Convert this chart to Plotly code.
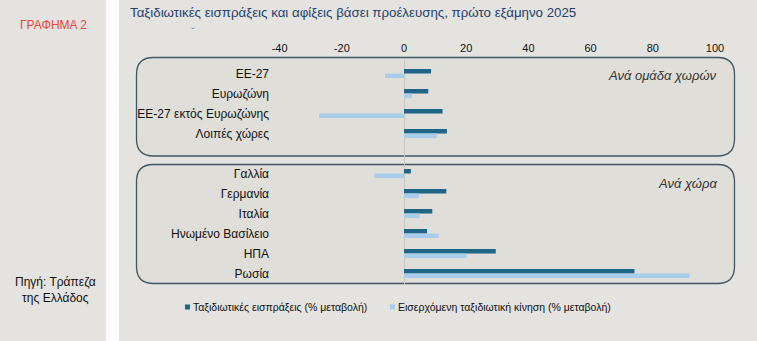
import plotly.graph_objects as go

W, H = 757, 341

categories = ["ΕΕ-27", "Ευρωζώνη", "ΕΕ-27 εκτός Ευρωζώνης", "Λοιπές χώρες", "",
              "Γαλλία", "Γερμανία", "Ιταλία", "Ηνωμένο Βασίλειο", "ΗΠΑ", "Ρωσία"]
receipts = [8.7, 7.8, 12.4, 13.8, None, 2.2, 13.6, 9.1, 7.4, 29.5, 74.1]
arrivals = [-6.1, 2.5, -27.3, 10.5, None, -9.5, 4.8, 5.0, 11.1, 20.1, 91.8]
series_names = ["Ταξιδιωτικές εισπράξεις (% μεταβολή)",
                "Εισερχόμενη ταξιδιωτική κίνηση (% μεταβολή)"]
tick_vals = [-40, -20, 0, 20, 40, 60, 80, 100]
tick_text = ["-40", "-20", "0", "20", "40", "60", "80", "100"]

title = "Ταξιδιωτικές εισπράξεις και αφίξεις βάσει προέλευσης, πρώτο εξάμηνο 2025"
DARK = "#1f6585"
LIGHT = "#a8ccec"
BG = "#e4e3df"
BOX = "#dfded9"
FONT = "Liberation Sans, Arial, sans-serif"

# pixel mapping
X0, XS = 404.0, 3.11
xr = [(0 - X0) / XS, (W - X0) / XS]
PT, PB = 58.0, 285.0
R0, RS = 73.5, 20.0
yr = [(PB - R0) / RS, (PT - R0) / RS]

def px(x):
    return x / W

def py(y):
    return 1 - y / H

idx = list(range(len(categories)))

fig = go.Figure()
fig.add_trace(go.Bar(y=idx, x=receipts, orientation="h", name=series_names[0],
                     marker=dict(color=DARK, line=dict(width=0)), showlegend=False))
fig.add_trace(go.Bar(y=idx, x=arrivals, orientation="h", name=series_names[1],
                     marker=dict(color=LIGHT, line=dict(width=0)), showlegend=False))

def rrect(x0, y0, x1, y1, r):
    def P(x, y):
        return f"{px(x):.5f},{py(y):.5f}"
    return (f"M {P(x0 + r, y0)} L {P(x1 - r, y0)} Q {P(x1, y0)} {P(x1, y0 + r)} "
            f"L {P(x1, y1 - r)} Q {P(x1, y1)} {P(x1 - r, y1)} "
            f"L {P(x0 + r, y1)} Q {P(x0, y1)} {P(x0, y1 - r)} "
            f"L {P(x0, y0 + r)} Q {P(x0, y0)} {P(x0 + r, y0)} Z")

shapes = [
    dict(type="rect", xref="paper", yref="paper", x0=px(106), x1=px(119), y0=0, y1=1,
         fillcolor="white", line=dict(width=0), layer="below"),
    dict(type="path", xref="paper", yref="paper", path=rrect(136.5, 57.5, 734.5, 156, 17),
         fillcolor=BOX, line=dict(color="#3f5768", width=1.3), layer="below"),
    dict(type="path", xref="paper", yref="paper", path=rrect(136.5, 164.5, 734.5, 283.5, 17),
         fillcolor=BOX, line=dict(color="#3f5768", width=1.3), layer="below"),
    dict(type="rect", xref="paper", yref="paper", x0=px(185), x1=px(190), y0=py(309.5), y1=py(304.5),
         fillcolor=DARK, line=dict(width=0)),
    dict(type="rect", xref="paper", yref="paper", x0=px(390), x1=px(395), y0=py(309.5), y1=py(304.5),
         fillcolor=LIGHT, line=dict(width=0)),
]

ann = [
    dict(text=title, x=px(128), y=py(13), xanchor="left", yanchor="middle",
         font=dict(size=13.3, color="#1f3f6e", family=FONT)),
    dict(text="ˇ", x=px(193), y=py(32), xanchor="center", yanchor="middle",
         font=dict(size=11, color="#6a88b0", family=FONT)),
    dict(text="ΓΡΑΦΗΜΑ 2", x=px(53), y=py(25), xanchor="center", yanchor="middle",
         font=dict(size=12, color="#e8473b", family=FONT)),
    dict(text="Πηγή: Τράπεζα<br>της Ελλάδος", x=px(55), y=py(290), xanchor="center", yanchor="middle",
         font=dict(size=12, color="#111111", family=FONT)),
    dict(text="<i>Ανά ομάδα χωρών</i>", x=px(719), y=py(75), xanchor="right", yanchor="middle",
         font=dict(size=13, color="#333333", family=FONT)),
    dict(text="<i>Ανά χώρα</i>", x=px(719), y=py(183), xanchor="right", yanchor="middle",
         font=dict(size=13, color="#333333", family=FONT)),
    dict(text=series_names[0], x=px(191), y=py(307), xanchor="left", yanchor="middle",
         font=dict(size=10.5, color="#111111", family=FONT)),
    dict(text=series_names[1], x=px(396), y=py(307), xanchor="left", yanchor="middle",
         font=dict(size=10.5, color="#111111", family=FONT)),
]
for a in ann:
    a.update(xref="paper", yref="paper", showarrow=False)

fig.update_layout(
    width=W, height=H, margin=dict(l=0, r=0, t=0, b=0),
    paper_bgcolor=BG, plot_bgcolor="rgba(0,0,0,0)",
    barmode="group", bargap=0.55, bargroupgap=0,
    font=dict(family=FONT, size=11, color="#111111"),
    shapes=shapes, annotations=ann,
    xaxis=dict(range=xr, domain=[0, 1], side="top", tickvals=tick_vals, ticktext=tick_text,
               showgrid=False, zeroline=True, zerolinecolor="#c8c8c4", zerolinewidth=1,
               showline=False, ticks="", ticklabelstandoff=3,
               tickfont=dict(size=11, family=FONT, color="#111111"), fixedrange=True),
    yaxis=dict(range=yr, domain=[py(PB), py(PT)], tickvals=idx, ticktext=categories,
               anchor="free", position=px(269), showgrid=False, zeroline=False,
               showline=False, ticks="", ticklabelstandoff=0,
               tickfont=dict(size=12, family=FONT, color="#111111"), fixedrange=True),
)

fig.write_html("out.html")
